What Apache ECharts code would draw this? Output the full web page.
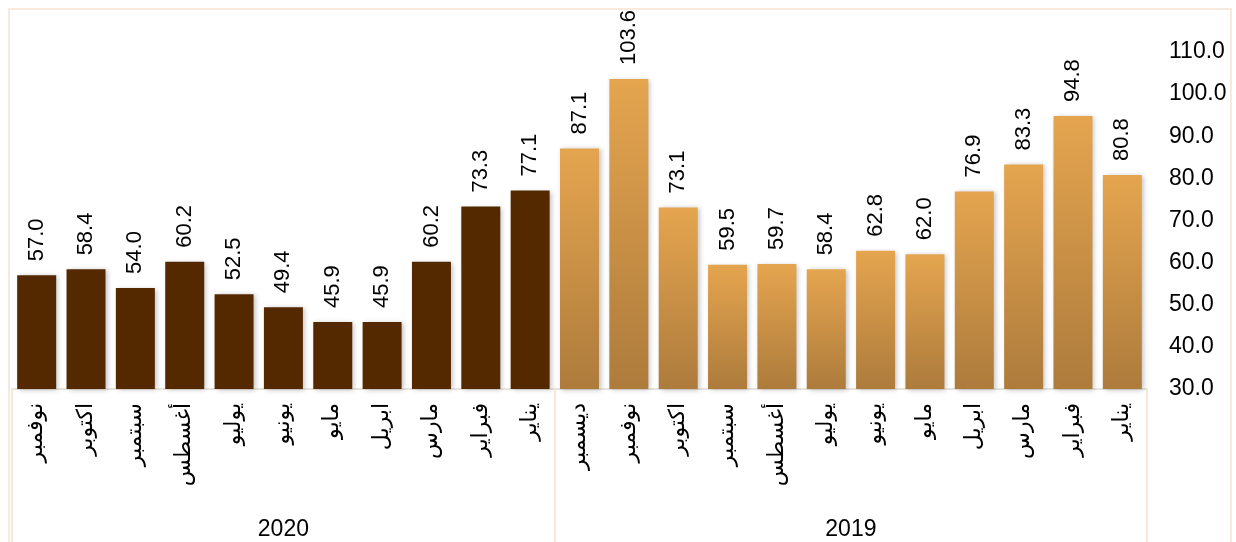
<!DOCTYPE html>
<html>
<head>
<meta charset="utf-8">
<script src="https://cdn.jsdelivr.net/npm/echarts@6/dist/echarts.min.js"></script>
<style>
  html, body { margin: 0; padding: 0; background: #fff; }
  #chart { width: 1236px; height: 542px; }
</style>
</head>
<body>
<div id="chart"></div>
<script>
// الشهور من اليسار إلى اليمين كما في الرسم
var months2020 = ['نوفمبر', 'اكتوبر', 'سبتمبر', 'أغسطس', 'يوليو', 'يونيو', 'مايو', 'ابريل', 'مارس', 'فبراير', 'يناير'];
var values2020 = [57.0, 58.4, 54.0, 60.2, 52.5, 49.4, 45.9, 45.9, 60.2, 73.3, 77.1];
var months2019 = ['ديسمبر', 'نوفمبر', 'اكتوبر', 'سبتمبر', 'أغسطس', 'يوليو', 'يونيو', 'مايو', 'ابريل', 'مارس', 'فبراير', 'يناير'];
var values2019 = [87.1, 103.6, 73.1, 59.5, 59.7, 58.4, 62.8, 62.0, 76.9, 83.3, 94.8, 80.8];
var years = ['2020', '2019'];

var fontFamily = "'Liberation Sans', Arial, 'DejaVu Sans', sans-serif";

var color2020 = '#552900';
var color2019 = new echarts.graphic.LinearGradient(0, 0, 0, 1, [
  { offset: 0, color: '#e5a54f' },
  { offset: 1, color: '#ad7b3c' }
]);

var categories = months2020.concat(months2019);
var barData = [];
values2020.forEach(function (v) {
  barData.push({ value: v, itemStyle: { color: color2020 } });
});
values2019.forEach(function (v) {
  barData.push({ value: v, itemStyle: { color: color2019 } });
});

// مواضع الفواصل ومراكز أسماء السنوات على محور القيم الثاني
var n20 = months2020.length, n19 = months2019.length;
var sepValues = [0, n20, n20 + n19];
var yearCenters = [n20 / 2, n20 + n19 / 2];

var chart = echarts.init(document.getElementById('chart'));
chart.setOption({
  backgroundColor: '#fff',
  animation: false,
  textStyle: { fontFamily: fontFamily },
  graphic: [{
    type: 'rect',
    shape: { x: 9, y: 9, width: 1222, height: 540 },
    style: { fill: null, stroke: '#f8e9dc', lineWidth: 2 },
    silent: true
  }],
  grid: { left: 12, right: 89, top: 52, bottom: 153 },
  xAxis: [{
    type: 'category',
    data: categories,
    axisLine: { lineStyle: { color: '#e3dcd5', width: 1.5 } },
    axisTick: { show: false },
    axisLabel: {
      rotate: 90,
      interval: 0,
      margin: 14,
      fontSize: 22,
      color: '#000',
      fontFamily: "'DejaVu Sans', sans-serif"
    }
  }, {
    type: 'value',
    position: 'bottom',
    min: 0,
    max: n20 + n19,
    axisLine: { show: false },
    splitLine: { show: false },
    axisTick: {
      show: true,
      customValues: sepValues,
      length: 155,
      lineStyle: { color: '#f6e8dc', width: 2 }
    },
    axisLabel: {
      customValues: yearCenters,
      margin: 129,
      fontSize: 23,
      color: '#000',
      formatter: function (v) {
        var i = yearCenters.indexOf(v);
        return i >= 0 ? years[i] : '';
      }
    }
  }],
  yAxis: {
    type: 'value',
    position: 'right',
    min: 30,
    max: 110,
    interval: 10,
    axisLine: { show: false },
    axisTick: { show: false },
    splitLine: { show: false },
    axisLabel: {
      margin: 22,
      fontSize: 23,
      color: '#000',
      formatter: function (v) { return v.toFixed(1); }
    }
  },
  series: [{
    type: 'bar',
    data: barData,
    barCategoryGap: '21%',
    itemStyle: {
      shadowBlur: 5,
      shadowOffsetX: 2,
      shadowOffsetY: 1,
      shadowColor: 'rgba(0,0,0,0.25)'
    },
    label: {
      show: true,
      position: 'top',
      rotate: 90,
      align: 'left',
      verticalAlign: 'middle',
      distance: 14,
      fontSize: 22,
      color: '#000',
      formatter: function (p) { return p.value.toFixed(1); }
    }
  }]
});
</script>
</body>
</html>
